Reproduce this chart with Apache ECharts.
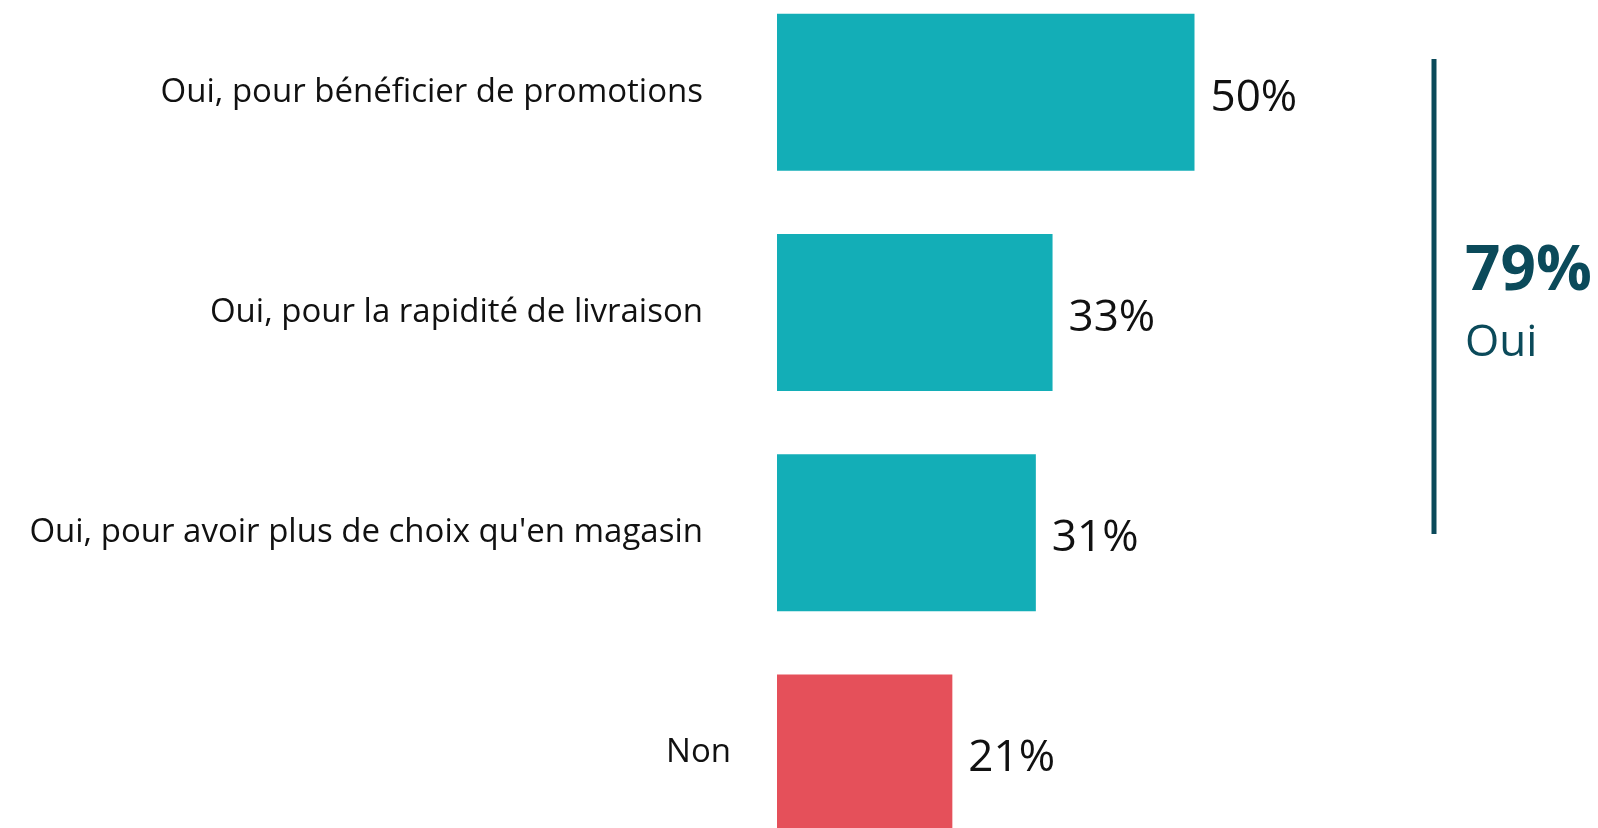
<!DOCTYPE html>
<html>
<head>
<meta charset="utf-8">
<script src="https://cdn.jsdelivr.net/npm/echarts@6/dist/echarts.min.js"></script>
<style>
html, body { margin: 0; padding: 0; background: #fff; }
#chart { width: 1598px; height: 828px; }
</style>
</head>
<body>
<div id="chart"></div>
<script>
const categories = [
    'Oui, pour bénéficier de promotions',
    'Oui, pour la rapidité de livraison',
    "Oui, pour avoir plus de choix qu'en magasin",
    'Non'
];
const values = [50, 33, 31, 21];
const ouiTotal = 79;
const ouiLabel = 'Oui';

const teal = '#13aeb7';
const red = '#e5505a';
const dark = '#0b4a5a';

const myChart = echarts.init(document.getElementById('chart'));

const option = {
    backgroundColor: '#fff',
    animation: false,
    grid: {
        left: 777,
        width: 501,
        top: -18,
        height: 881,
        containLabel: false,
        outerBoundsMode: 'none'
    },
    xAxis: {
        type: 'value',
        min: 0,
        max: 60,
        show: false
    },
    yAxis: {
        type: 'category',
        inverse: true,
        data: categories.map((c) => ({
            value: c,
            // "Non" sits a bit further right in the original
            textStyle: c === 'Non' ? { padding: [0, -28, -14, 0] } : {}
        })),
        axisLine: { show: false },
        axisTick: { show: false },
        axisLabel: {
            margin: 74,
            fontFamily: 'Open Sans',
            fontSize: 33,
            color: '#111',
            verticalAlign: 'bottom',
            lineHeight: 38,
            padding: [0, 0, -14, 0]
        }
    },
    series: [
        {
            type: 'bar',
            barWidth: 157,
            data: values.map((v, i) => ({
                value: v,
                itemStyle: { color: categories[i] === 'Non' ? red : teal }
            })),
            label: {
                show: true,
                position: 'right',
                distance: 16,
                offset: [0, 6],
                formatter: '{c}%',
                fontFamily: 'Open Sans',
                fontSize: 44,
                color: '#111'
            }
        }
    ],
    graphic: [
        {
            type: 'rect',
            shape: { x: 1431.5, y: 59, width: 5, height: 475 },
            style: { fill: dark }
        },
        {
            type: 'text',
            x: 1465,
            y: 241,
            style: {
                text: ouiTotal + '%',
                font: 'bold 62px "Open Sans"',
                fill: dark
            }
        },
        {
            type: 'text',
            x: 1465,
            y: 321,
            style: {
                text: ouiLabel,
                font: '44px "Open Sans"',
                fill: dark
            }
        }
    ]
};

myChart.setOption(option);
</script>
</body>
</html>
